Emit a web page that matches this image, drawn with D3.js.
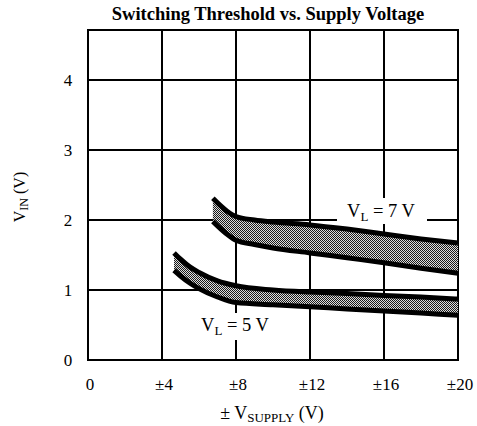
<!DOCTYPE html>
<html>
<head>
<meta charset="utf-8">
<script src="https://cdn.jsdelivr.net/npm/d3@7"></script>
<style>
  body { margin: 0; background: #fff; }
  text { font-family: "Liberation Serif", "Times New Roman", serif; fill: #000; }
</style>
</head>
<body>
<div id="chart"></div>
<script>
// ----------------------------
// DATA
// ----------------------------
const xTicks = [0, 4, 8, 12, 16, 20];
const xTickLabels = ["0", "\u00b14", "\u00b18", "\u00b112", "\u00b116", "\u00b120"];
const yTicks = [0, 1, 2, 3, 4];

// V_L = 7 V band
const supply7 = [6.75, 7.5, 8, 9, 10, 12, 14, 16, 18, 20];
const upper7  = [2.31, 2.13, 2.05, 2.0, 1.97, 1.93, 1.87, 1.80, 1.73, 1.67];
const lower7  = [1.98, 1.80, 1.71, 1.65, 1.60, 1.53, 1.46, 1.39, 1.31, 1.24];

// V_L = 5 V band
const supply5 = [4.65, 5, 5.5, 6, 7, 8, 10, 12, 14, 16, 18, 20];
const upper5  = [1.53, 1.44, 1.33, 1.25, 1.13, 1.06, 1.0, 0.97, 0.95, 0.92, 0.90, 0.87];
const lower5  = [1.28, 1.20, 1.10, 1.02, 0.90, 0.82, 0.79, 0.76, 0.73, 0.70, 0.67, 0.64];

function chart() {
  const width = 477;
  const height = 426;
  const margin = { top: 30, right: 19, bottom: 66, left: 88 };

  const svg = d3.select("#chart")
    .append("svg")
    .attr("width", width)
    .attr("height", height);

  const x = d3.scaleLinear()
    .domain([0, 20])
    .range([margin.left, width - margin.right]);

  // 70 px per volt, top of frame a bit above 4.7
  const y = d3.scaleLinear()
    .domain([0, (height - margin.top - margin.bottom) / 70])
    .range([height - margin.bottom, margin.top]);

  // ----------------------------
  // STIPPLE PATTERN
  // ----------------------------
  const pat = svg.append("defs").append("pattern")
    .attr("id", "stipple")
    .attr("patternUnits", "userSpaceOnUse")
    .attr("width", 2)
    .attr("height", 2);
  pat.append("rect").attr("width", 2).attr("height", 2).attr("fill", "#ddd");
  pat.append("rect").attr("width", 1).attr("height", 1).attr("fill", "#1a1a1a");
  pat.append("rect").attr("x", 1).attr("y", 1).attr("width", 1).attr("height", 1).attr("fill", "#1a1a1a");

  // ----------------------------
  // GRID + FRAME
  // ----------------------------
  const grid = svg.append("g").attr("stroke", "#000").attr("stroke-width", 2);

  grid.selectAll(".vgrid")
    .data(xTicks.slice(1, -1))
    .join("line")
    .attr("x1", d => x(d)).attr("x2", d => x(d))
    .attr("y1", y.range()[0]).attr("y2", y.range()[1]);

  grid.selectAll(".hgrid")
    .data(yTicks.slice(1))
    .join("line")
    .attr("x1", x.range()[0]).attr("x2", x.range()[1])
    .attr("y1", d => y(d)).attr("y2", d => y(d));

  grid.append("rect")
    .attr("x", x.range()[0])
    .attr("y", y.range()[1])
    .attr("width", x.range()[1] - x.range()[0])
    .attr("height", y.range()[0] - y.range()[1])
    .attr("fill", "none");

  // ----------------------------
  // BANDS
  // ----------------------------
  const bands = [
    { xs: supply7, up: upper7, lo: lower7 },
    { xs: supply5, up: upper5, lo: lower5 }
  ];

  const area = d3.area()
    .x(d => x(d.s))
    .y0(d => y(d.lo))
    .y1(d => y(d.up))
    .curve(d3.curveMonotoneX);

  const lineUp = d3.line().x(d => x(d.s)).y(d => y(d.up)).curve(d3.curveMonotoneX);
  const lineLo = d3.line().x(d => x(d.s)).y(d => y(d.lo)).curve(d3.curveMonotoneX);

  bands.forEach(b => {
    const pts = b.xs.map((s, i) => ({ s, up: b.up[i], lo: b.lo[i] }));

    svg.append("path")
      .attr("d", area(pts))
      .attr("fill", "url(#stipple)");

    [lineUp, lineLo].forEach(l => {
      svg.append("path")
        .attr("d", l(pts))
        .attr("fill", "none")
        .attr("stroke", "#000")
        .attr("stroke-width", 5)
        .attr("stroke-linecap", "butt");
    });
  });

  // ----------------------------
  // BAND LABELS
  // ----------------------------
  const labels = [
    { text: "7 V", cx: 381, base: 217, box: [337, 198, 90, 26] },
    { text: "5 V", cx: 235, base: 331, box: [192, 313, 86, 27] }
  ];

  labels.forEach(l => {
    svg.append("rect")
      .attr("x", l.box[0])
      .attr("y", l.box[1])
      .attr("width", l.box[2])
      .attr("height", l.box[3])
      .attr("fill", "#fff");

    const t = svg.append("text")
      .attr("x", l.cx)
      .attr("y", l.base)
      .attr("text-anchor", "middle")
      .attr("font-size", "18.5px");
    t.append("tspan").text("V");
    t.append("tspan").attr("font-size", "13px").attr("dy", 4).text("L");
    t.append("tspan").attr("dy", -4).text(" = " + l.text);
  });

  // ----------------------------
  // TICK LABELS
  // ----------------------------
  svg.selectAll(".xlab")
    .data(xTicks)
    .join("text")
    .attr("x", d => x(d) + 2)
    .attr("y", 390)
    .attr("text-anchor", "middle")
    .attr("font-size", "17px")
    .text((d, i) => xTickLabels[i]);

  svg.selectAll(".ylab")
    .data(yTicks)
    .join("text")
    .attr("x", 68)
    .attr("y", d => y(d) + 6)
    .attr("text-anchor", "middle")
    .attr("font-size", "17px")
    .text(d => d);

  // ----------------------------
  // TITLES
  // ----------------------------
  svg.append("text")
    .attr("x", 268)
    .attr("y", 20)
    .attr("text-anchor", "middle")
    .attr("font-size", "18.5px")
    .attr("font-weight", "bold")
    .text("Switching Threshold vs. Supply Voltage");

  const xt = svg.append("text")
    .attr("x", 272)
    .attr("y", 419)
    .attr("text-anchor", "middle")
    .attr("font-size", "18px");
  xt.append("tspan").text("\u00b1 V");
  xt.append("tspan").attr("font-size", "13px").attr("dy", 3).text("SUPPLY");
  xt.append("tspan").attr("dy", -3).text(" (V)");

  const yt = svg.append("text")
    .attr("transform", "translate(25,197) rotate(-90)")
    .attr("text-anchor", "middle")
    .attr("font-size", "16px");
  yt.append("tspan").text("V");
  yt.append("tspan").attr("font-size", "12px").attr("dy", 3).text("IN");
  yt.append("tspan").attr("dy", -3).text("  (V)");
}

chart();
</script>
</body>
</html>
